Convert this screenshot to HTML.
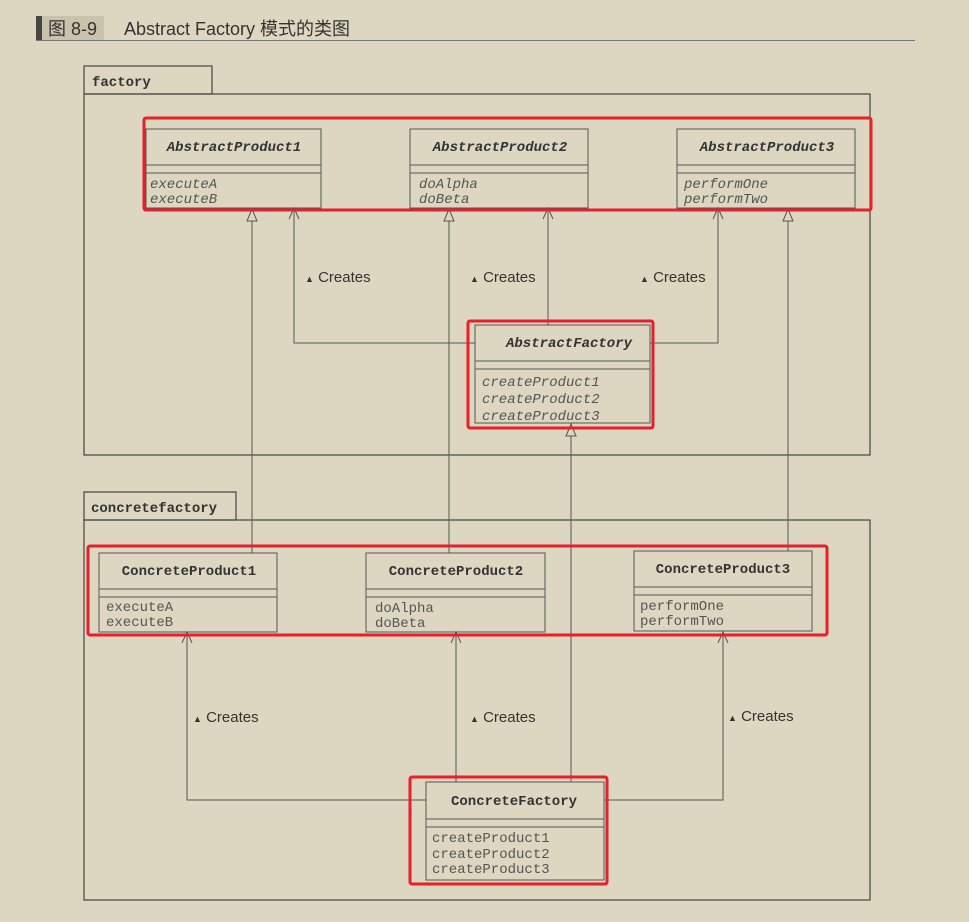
<!DOCTYPE html>
<html><head><meta charset="utf-8"><style>
html,body{margin:0;padding:0;background:#ddd6c0;}
svg{display:block}
.n{font-family:"Liberation Mono",monospace;font-weight:bold;font-size:14px;fill:#333}
.m{font-family:"Liberation Mono",monospace;font-size:14px;fill:#555}
.c{font-family:"Liberation Sans",sans-serif;font-size:15px;fill:#333}
</style></head><body>
<svg width="969" height="922" viewBox="0 0 969 922">
<defs>
<marker id="tri" markerWidth="12" markerHeight="14" refX="6" refY="1" orient="auto-start-reverse" markerUnits="userSpaceOnUse">
</marker>
</defs>
<rect x="0" y="0" width="969" height="922" fill="#ddd6c0"/>
<!-- title -->
<rect x="36" y="16" width="68" height="25" fill="#c9c2ad"/>
<rect x="36" y="16" width="6" height="25" fill="#444"/>
<text x="48" y="35" font-family="Liberation Sans,'Noto Sans CJK SC',sans-serif" font-size="18" fill="#333">图 8-9</text>
<text x="124" y="35" font-family="Liberation Sans,'Noto Sans CJK SC',sans-serif" font-size="18" fill="#333">Abstract Factory 模式的类图</text>
<line x1="36" y1="40.5" x2="915" y2="40.5" stroke="#777" stroke-width="1"/>
<g fill="none" stroke="#444" stroke-width="1.2">
<!-- packages -->
<rect x="84" y="66" width="128" height="28"/>
<rect x="84" y="94" width="786" height="361"/>
<rect x="84" y="492" width="152" height="28"/>
<rect x="84" y="520" width="786" height="380"/>
</g>
<text x="92" y="86" class="n">factory</text>
<text x="91" y="512" class="n">concretefactory</text>
<g fill="none" stroke="#555" stroke-width="1">
<!-- classes -->
<rect x="146" y="129" width="175" height="79"/><line x1="146" y1="165" x2="321" y2="165"/><line x1="146" y1="173" x2="321" y2="173"/>
<rect x="410" y="129" width="178" height="79"/><line x1="410" y1="165" x2="588" y2="165"/><line x1="410" y1="173" x2="588" y2="173"/>
<rect x="677" y="129" width="178" height="79"/><line x1="677" y1="165" x2="855" y2="165"/><line x1="677" y1="173" x2="855" y2="173"/>
<rect x="475" y="325" width="175" height="98"/><line x1="475" y1="361" x2="650" y2="361"/><line x1="475" y1="369" x2="650" y2="369"/>
<rect x="99" y="553" width="178" height="79"/><line x1="99" y1="589" x2="277" y2="589"/><line x1="99" y1="597" x2="277" y2="597"/>
<rect x="366" y="553" width="179" height="79"/><line x1="366" y1="589" x2="545" y2="589"/><line x1="366" y1="597" x2="545" y2="597"/>
<rect x="634" y="551" width="178" height="80"/><line x1="634" y1="587" x2="812" y2="587"/><line x1="634" y1="595" x2="812" y2="595"/>
<rect x="426" y="782" width="178" height="98"/><line x1="426" y1="819" x2="604" y2="819"/><line x1="426" y1="827" x2="604" y2="827"/>
<!-- inheritance lines -->
<line x1="252" y1="221" x2="252" y2="553"/>
<line x1="449" y1="221" x2="449" y2="553"/>
<line x1="788" y1="221" x2="788" y2="551"/>
<line x1="571" y1="436" x2="571" y2="782"/>
<!-- creates lines -->
<polyline points="294,208 294,343 475,343"/>
<line x1="548" y1="208" x2="548" y2="325"/>
<polyline points="718,208 718,343 650,343"/>
<polyline points="187,632 187,800 426,800"/>
<line x1="456" y1="632" x2="456" y2="782"/>
<polyline points="723,632 723,800 604,800"/>
<!-- open arrows -->
<polyline points="289,219 294,208 299,219"/>
<polyline points="543,219 548,208 553,219"/>
<polyline points="713,219 718,208 723,219"/>
<polyline points="182,643 187,632 192,643"/>
<polyline points="451,643 456,632 461,643"/>
<polyline points="718,643 723,632 728,643"/>
</g>
<g fill="#ddd6c0" stroke="#555" stroke-width="1">
<polygon points="252,209 247,221 257,221"/>
<polygon points="449,209 444,221 454,221"/>
<polygon points="788,209 783,221 793,221"/>
<polygon points="571,424 566,436 576,436"/>
</g>
<!-- names -->
<g class="n" text-anchor="middle">
<text x="234" y="151" font-style="italic">AbstractProduct1</text>
<text x="500" y="151" font-style="italic">AbstractProduct2</text>
<text x="767" y="151" font-style="italic">AbstractProduct3</text>
<text x="569" y="347" font-style="italic">AbstractFactory</text>
<text x="189" y="575">ConcreteProduct1</text>
<text x="456" y="575">ConcreteProduct2</text>
<text x="723" y="573">ConcreteProduct3</text>
<text x="514" y="805">ConcreteFactory</text>
</g>
<g class="m" font-style="italic">
<text x="150" y="188">executeA</text><text x="150" y="203">executeB</text>
<text x="419" y="188">doAlpha</text><text x="419" y="203">doBeta</text>
<text x="684" y="188">performOne</text><text x="684" y="203">performTwo</text>
<text x="482" y="386">createProduct1</text><text x="482" y="403">createProduct2</text><text x="482" y="420">createProduct3</text>
</g>
<g class="m">
<text x="106" y="611">executeA</text><text x="106" y="626">executeB</text>
<text x="375" y="612">doAlpha</text><text x="375" y="627">doBeta</text>
<text x="640" y="610">performOne</text><text x="640" y="625">performTwo</text>
<text x="432" y="842">createProduct1</text><text x="432" y="858">createProduct2</text><text x="432" y="873">createProduct3</text>
</g>
<g class="c">
<text x="305" y="282"><tspan font-size="9">▲</tspan> Creates</text>
<text x="470" y="282"><tspan font-size="9">▲</tspan> Creates</text>
<text x="640" y="282"><tspan font-size="9">▲</tspan> Creates</text>
<text x="193" y="722"><tspan font-size="9">▲</tspan> Creates</text>
<text x="470" y="722"><tspan font-size="9">▲</tspan> Creates</text>
<text x="728" y="721"><tspan font-size="9">▲</tspan> Creates</text>
</g>
<!-- red boxes -->
<g fill="none" stroke="#e8202a" stroke-width="3">
<rect x="144" y="118" width="727" height="92" rx="2"/>
<rect x="468" y="321" width="185" height="107" rx="2"/>
<rect x="88" y="546" width="739" height="89" rx="2"/>
<rect x="410" y="777" width="197" height="107" rx="2"/>
</g>
</svg>
</body></html>
